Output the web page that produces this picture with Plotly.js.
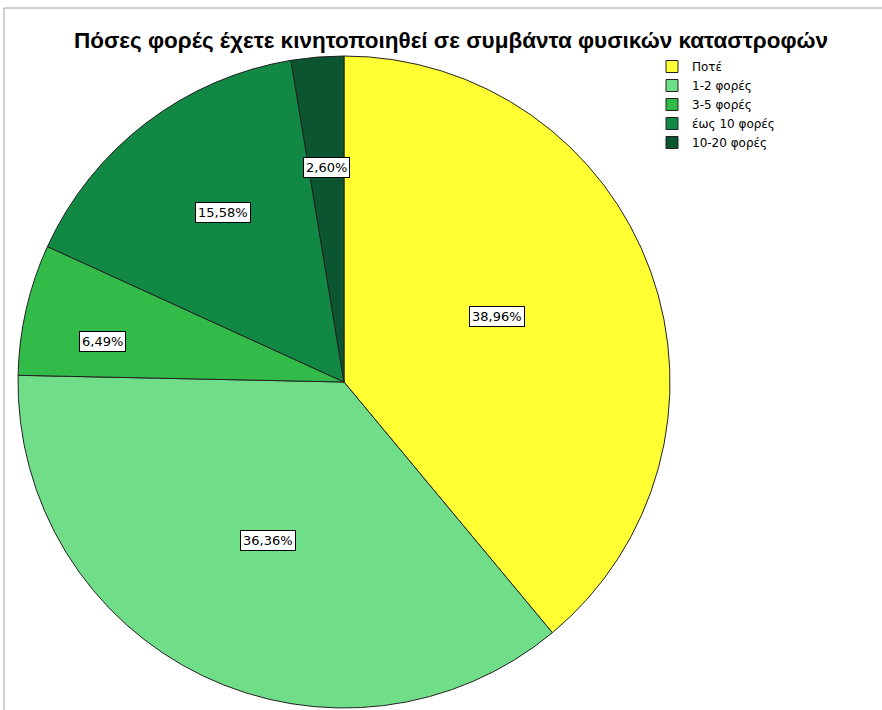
<!DOCTYPE html>
<html>
<head>
<meta charset="utf-8">
<script src="https://cdn.plot.ly/plotly-3.0.1.min.js"></script>
<style>html,body{margin:0;padding:0;background:#fff;}#chart{width:882px;height:710px;}</style>
</head>
<body>
<div id="chart"></div>
<script>
const categories = ["Ποτέ", "1-2 φορές", "3-5 φορές", "έως 10 φορές", "10-20 φορές"];
const percentages = [38.96, 36.36, 6.49, 15.58, 2.60];
const sliceColors = ["#FFFF33", "#70DD88", "#33BB4A", "#118844", "#0B5530"];
const titleText = "Πόσες φορές έχετε κινητοποιηθεί σε συμβάντα φυσικών καταστροφών";

const W = 882, H = 710;
const cxPx = 344, cyPx = 382, rPx = 326;
const labelRadius = [0.51, 0.54, 0.75, 0.64, 0.66];
const labelAngleOffsetDeg = [-3.4, 0, -3.4, 1.9, 0];

const domainX = [(cxPx - rPx) / W, (cxPx + rPx) / W];
const domainY = [1 - (cyPx + rPx) / H, 1 - (cyPx - rPx) / H];

const total = percentages.reduce((a, b) => a + b, 0);
let cum = 0;
const annotations = percentages.map((v, i) => {
  const mid = (cum + v / 2) / total * 2 * Math.PI + labelAngleOffsetDeg[i] * Math.PI / 180;
  cum += v;
  const rr = rPx * labelRadius[i];
  return {
    xref: 'paper', yref: 'paper',
    x: (cxPx + rr * Math.sin(mid)) / W,
    y: 1 - (cyPx - rr * Math.cos(mid)) / H,
    text: v.toFixed(2).replace('.', ',') + '%',
    showarrow: false,
    font: {family: 'DejaVu Sans', size: 13, color: '#000'},
    bgcolor: '#ffffff', bordercolor: '#000000', borderwidth: 1, borderpad: 2,
    xanchor: 'center', yanchor: 'middle'
  };
});

const trace = {
  type: 'pie',
  labels: categories,
  values: percentages,
  sort: false,
  direction: 'clockwise',
  rotation: 0,
  textinfo: 'none',
  hoverinfo: 'label+percent',
  marker: {colors: sliceColors, line: {color: '#222222', width: 1}},
  domain: {x: domainX, y: domainY}
};

const layout = {
  width: W, height: H,
  margin: {l: 0, r: 0, t: 0, b: 0},
  paper_bgcolor: '#ffffff',
  title: {
    text: '<b>' + titleText + '</b>',
    x: 451 / W, xanchor: 'center',
    y: 1 - 40 / H, yanchor: 'middle',
    font: {family: 'Liberation Sans', size: 22.5, color: '#000'}
  },
  showlegend: true,
  legend: {
    x: 652 / W, y: 1 - 52 / H, xanchor: 'left', yanchor: 'top',
    font: {family: 'DejaVu Sans', size: 12, color: '#000'},
    bgcolor: 'rgba(0,0,0,0)', tracegroupgap: 0
  },
  annotations: annotations,
  shapes: [
    {type: 'line', xref: 'paper', yref: 'paper', x0: 4 / W, x1: 1, y0: 1 - 8 / H, y1: 1 - 8 / H, line: {color: '#a0a0a0', width: 1}},
    {type: 'line', xref: 'paper', yref: 'paper', x0: 4 / W, x1: 4 / W, y0: 0, y1: 1 - 8 / H, line: {color: '#a0a0a0', width: 1}}
  ]
};

Plotly.newPlot('chart', [trace], layout, {displayModeBar: false, staticPlot: true});
</script>
</body>
</html>
